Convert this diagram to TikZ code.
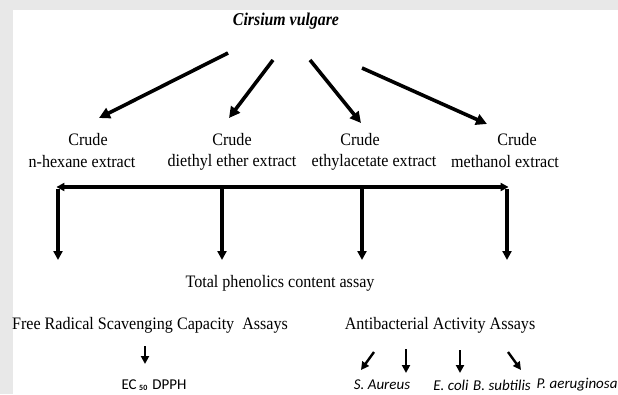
\documentclass[tikz,border=0pt]{standalone}
\usepackage{fontspec}
\setmainfont[FakeStretch=0.92]{Liberation Serif}
\newfontfamily\titlef[FakeStretch=0.88]{Liberation Serif}
\newfontfamily\sansf{Carlito}
\usetikzlibrary{arrows.meta}
\begin{document}
\begin{tikzpicture}[x=1pt,y=-1pt,
 arr/.style={line width=3.6pt,-{Triangle[length=11pt,width=11pt]}},
 varr/.style={line width=3.3pt,-{Triangle[length=9pt,width=9pt]}},
 sarr/.style={line width=2.4pt,-{Triangle[length=8pt,width=8pt]}},
 lbl/.style={font=\fontsize{17.5}{17.5}\selectfont, inner sep=0pt},
 title/.style={font=\titlef\fontsize{18}{18}\selectfont\bfseries\itshape, inner sep=0pt},
 bact/.style={font=\sansf\fontsize{15}{15}\selectfont\itshape, inner sep=0pt},
 ec/.style={font=\sansf\fontsize{15}{15}\selectfont, inner sep=0pt}]
\fill[black!9] (0,0) rectangle (618,394);
\fill[white] (12.5,10) rectangle (618,394);
\useasboundingbox (0,0) rectangle (618,394);

\node[title] (top) at (286,21) {Cirsium vulgare};

\node[lbl] (cr1) at (88,140) {Crude};
\node[lbl] (ex1) at (82,162) {n-hexane extract};
\node[lbl] (cr2) at (232,140) {Crude};
\node[lbl] (ex2) at (232,162) {diethyl ether extract};
\node[lbl] (cr3) at (360,140) {Crude};
\node[lbl] (ex3) at (374,162) {ethylacetate extract};
\node[lbl] (cr4) at (517,140) {Crude};
\node[lbl] (ex4) at (505,162) {methanol extract};

\coordinate (s1) at (228,53); \coordinate (t1) at (99,118);
\coordinate (s2) at (273,60); \coordinate (t2) at (229,118);
\coordinate (s3) at (310,60); \coordinate (t3) at (361,123);
\coordinate (s4) at (362,68); \coordinate (t4) at (487,124);
\draw[arr] (s1) -- (t1);
\draw[arr] (s2) -- (t2);
\draw[arr] (s3) -- (t3);
\draw[arr] (s4) -- (t4);

\coordinate (bl) at (58,187); \coordinate (b2) at (222,187);
\coordinate (b3) at (362,187); \coordinate (br) at (507,187);
\coordinate (d1) at (58,260); \coordinate (d2) at (222,260);
\coordinate (d3) at (362,260); \coordinate (d4) at (507,260);
\draw[line width=3.3pt,{Triangle[length=8pt,width=8pt]}-{Triangle[length=8pt,width=8pt]}] ([xshift=-1.6pt]bl) -- ([xshift=1.6pt]br);
\draw[varr] ([yshift=-1.6pt]bl) -- (d1);
\draw[varr] (b2) -- (d2);
\draw[varr] (b3) -- (d3);
\draw[varr] ([yshift=-1.6pt]br) -- (d4);

\node[lbl] (tp) at (280,283) {Total phenolics content assay};
\node[lbl] (fr) at (150,325) {Free Radical Scavenging Capacity\ \ Assays};
\node[lbl] (ab) at (440,325) {Antibacterial Activity Assays};

\node[ec] (ec) at (154,385) {EC\,\raisebox{-1pt}{\fontsize{8}{8}\selectfont\bfseries 50}\,\,DPPH};
\node[bact] (sa) at (382,385) {S. Aureus};
\node[bact] (ecl) at (451,385) {E. coli};
\node[bact] (bs) at (502,385) {B. subtilis};
\node[bact] (pa) at (577,385) {P. aeruginosa};

\coordinate (e1) at (145,346); \coordinate (e2) at (145,364);
\draw[sarr] (e1) -- (e2);
\coordinate (u1) at (374,352); \coordinate (v1) at (361,370);
\coordinate (u2) at (406,349); \coordinate (v2) at (406,373);
\coordinate (u3) at (460,350); \coordinate (v3) at (460,373);
\coordinate (u4) at (508,352); \coordinate (v4) at (521,370);
\draw[sarr] (u1) -- (v1);
\draw[sarr] (u2) -- (v2);
\draw[sarr] (u3) -- (v3);
\draw[sarr] (u4) -- (v4);
\end{tikzpicture}
\end{document}
